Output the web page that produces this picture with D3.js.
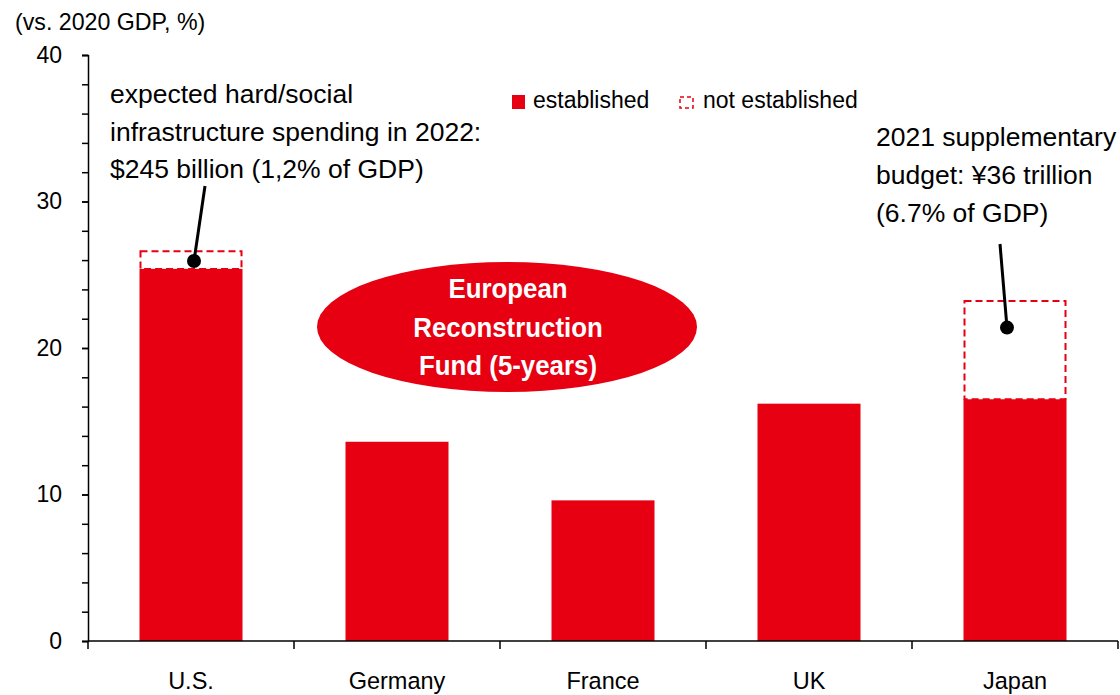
<!DOCTYPE html>
<html>
<head>
<meta charset="utf-8">
<script src="https://cdn.jsdelivr.net/npm/d3@7"></script>
<style>
  html, body { margin: 0; padding: 0; background: #fff; }
  svg { display: block; font-family: "Liberation Sans", Arial, sans-serif; }
</style>
</head>
<body>
<svg id="chart" width="1120" height="695"></svg>
<script>
// Fiscal packages by country, % of 2020 GDP
const countries = ["U.S.", "Germany", "France", "UK", "Japan"];
const established = [25.4, 13.6, 9.6, 16.2, 16.5];
const notEstablished = [1.2, 0, 0, 0, 6.7];
const yTicks = [0, 10, 20, 30, 40];
const yMinorTicks = d3.range(0, 41, 2);

const RED = "#E60012";
const svg = d3.select("#chart");

const margin = { left: 88, right: 2, top: 55, bottom: 54 };
const W = 1120, H = 695;

const x = d3.scaleBand()
  .domain(countries)
  .range([margin.left, W - margin.right])
  .paddingInner(0.5)
  .paddingOuter(0.25);

const y = d3.scaleLinear()
  .domain([0, 40])
  .range([H - margin.bottom, margin.top]);

// Axis unit label
svg.append("text")
  .attr("x", 15).attr("y", 30)
  .attr("font-size", 23.2)
  .attr("fill", "#000")
  .text("(vs. 2020 GDP, %)");

// Y axis: minor ticks every 2, labels every 10
const yMinor = svg.append("g")
  .attr("transform", `translate(${margin.left},0)`)
  .call(d3.axisLeft(y).tickValues(yMinorTicks).tickSize(6).tickFormat(""));
yMinor.select(".domain").attr("stroke", "#000").attr("stroke-width", 1.5);
yMinor.selectAll(".tick line").attr("stroke", "#000").attr("stroke-width", 1.5);

const yAxis = svg.append("g")
  .attr("transform", `translate(${margin.left},0)`)
  .call(d3.axisLeft(y).tickValues(yTicks).tickSize(6).tickPadding(20));
yAxis.select(".domain").remove();
yAxis.selectAll(".tick line").attr("stroke", "#000").attr("stroke-width", 1.5);
yAxis.selectAll(".tick text")
  .attr("font-size", 23)
  .attr("font-family", "Liberation Sans, Arial, sans-serif")
  .attr("fill", "#000");

// Established bars
svg.append("g").selectAll("rect")
  .data(countries)
  .join("rect")
  .attr("x", d => x(d))
  .attr("width", x.bandwidth())
  .attr("y", (d, i) => y(established[i]))
  .attr("height", (d, i) => y(0) - y(established[i]))
  .attr("fill", RED);

// Not-yet-established portion (dashed outline)
svg.append("g").selectAll("rect")
  .data(countries.filter((d, i) => notEstablished[i] > 0))
  .join("rect")
  .attr("x", d => x(d) + 1)
  .attr("width", x.bandwidth() - 2)
  .attr("y", d => {
    const i = countries.indexOf(d);
    return y(established[i] + notEstablished[i]);
  })
  .attr("height", d => {
    const i = countries.indexOf(d);
    return y(established[i]) - y(established[i] + notEstablished[i]);
  })
  .attr("fill", "none")
  .attr("stroke", RED)
  .attr("stroke-width", 2)
  .attr("stroke-dasharray", "7,4");

// X axis with ticks on category boundaries
const xBase = y(0);
const xAxis = svg.append("g");
xAxis.append("line")
  .attr("x1", margin.left).attr("x2", W - margin.right)
  .attr("y1", xBase).attr("y2", xBase)
  .attr("stroke", "#000").attr("stroke-width", 1.5);
const step = x.step();
const boundaries = d3.range(countries.length + 1).map(i => margin.left + i * step);
xAxis.selectAll("line.tk")
  .data(boundaries)
  .join("line")
  .attr("class", "tk")
  .attr("x1", d => d).attr("x2", d => d)
  .attr("y1", xBase).attr("y2", xBase + 8)
  .attr("stroke", "#000").attr("stroke-width", 1.5);
xAxis.selectAll("text")
  .data(countries)
  .join("text")
  .attr("transform", d => `translate(${x(d) + x.bandwidth() / 2},689) scale(0.96,1)`)
  .attr("text-anchor", "middle")
  .attr("font-size", 24.5)
  .attr("fill", "#000")
  .text(d => d);

// Legend
const legend = svg.append("g");
legend.append("rect")
  .attr("x", 512).attr("y", 95).attr("width", 13).attr("height", 14)
  .attr("fill", RED);
legend.append("text")
  .attr("x", 533).attr("y", 108)
  .attr("font-size", 23).attr("fill", "#000")
  .text("established");
legend.append("rect")
  .attr("x", 680).attr("y", 97).attr("width", 13).attr("height", 11)
  .attr("fill", "none").attr("stroke", RED).attr("stroke-width", 1.5)
  .attr("stroke-dasharray", "4,3");
legend.append("text")
  .attr("x", 703).attr("y", 108)
  .attr("font-size", 23).attr("fill", "#000")
  .text("not established");

// European Reconstruction Fund callout
const erf = svg.append("g");
erf.append("ellipse")
  .attr("cx", 507).attr("cy", 327).attr("rx", 190).attr("ry", 65)
  .attr("fill", RED);
["European", "Reconstruction", "Fund (5-years)"].forEach((t, i) => {
  erf.append("text")
    .attr("transform", `translate(508,${298 + i * 38.5}) scale(0.94,1)`)
    .attr("text-anchor", "middle")
    .attr("font-size", 27.5).attr("font-weight", "bold")
    .attr("fill", "#fff")
    .text(t);
});

// Annotation helper: pointer from a label down to the dashed segment
function annotate(lines, tx, ty, lineGap, country, frac, dx, lx2, ly2) {
  const i = countries.indexOf(country);
  const cx = x(country) + x.bandwidth() / 2 + dx;
  const cy = y(established[i] + notEstablished[i] * frac);
  const g = svg.append("g");
  lines.forEach((t, k) => {
    g.append("text")
      .attr("x", tx).attr("y", ty + k * lineGap)
      .attr("font-size", 26.5).attr("fill", "#000")
      .text(t);
  });
  g.append("line")
    .attr("x1", lx2).attr("y1", ly2).attr("x2", cx).attr("y2", cy)
    .attr("stroke", "#000").attr("stroke-width", 3);
  g.append("circle")
    .attr("cx", cx).attr("cy", cy).attr("r", 7)
    .attr("fill", "#000");
}

annotate(
  ["expected hard/social", "infrastructure spending in 2022:", "$245 billion (1,2% of GDP)"],
  110, 103, 37.5, "U.S.", 0.45, 3, 205, 186
);
annotate(
  ["2021 supplementary", "budget: \u00A536 trillion", "(6.7% of GDP)"],
  876, 146, 38, "Japan", 0.73, -8, 1000, 244
);
</script>
</body>
</html>
